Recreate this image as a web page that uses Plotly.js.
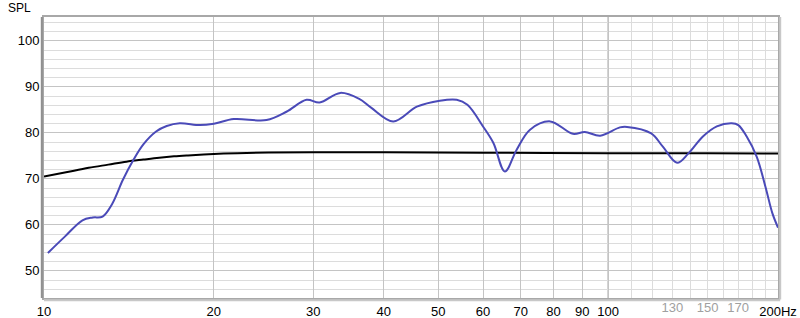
<!DOCTYPE html>
<html>
<head>
<meta charset="utf-8">
<script src="https://cdn.plot.ly/plotly-3.0.1.min.js"></script>
<style>html,body{margin:0;padding:0;background:#fff;}#chart{width:800px;height:318px;}</style>
</head>
<body>
<div id="chart"></div>
<script>
// Measured response (blue)
const measFreq = [10.16, 10.9, 11.7, 12.2, 12.7, 13.2, 13.8, 14.4, 15.0, 15.8, 16.5, 17.4, 18.9, 20, 21.7, 24.8, 26.9, 29.2, 30.8, 33.5, 36.2, 38, 41.6, 45.8, 50.3, 53.9, 56.3, 60, 62.6, 65.6, 68.8, 72.7, 78.9, 86.6, 90.9, 96.8, 104.9, 108, 119.2, 125, 132.5, 138.9, 147.2, 155.8, 165.6, 170.1, 176, 183.4, 190, 195.5, 200];
const measSPL  = [53.9, 57.5, 61.0, 61.6, 61.8, 64.5, 69.8, 74.1, 77.5, 80.3, 81.5, 82.1, 81.7, 82.0, 83.0, 82.8, 84.6, 87.2, 86.6, 88.7, 87.4, 85.5, 82.5, 85.7, 87.0, 87.2, 86.1, 81.4, 77.8, 71.6, 76.3, 80.7, 82.5, 79.8, 80.2, 79.4, 81.2, 81.3, 79.9, 77.0, 73.5, 75.6, 79.2, 81.4, 82.1, 81.7, 79.2, 74.8, 68.3, 62.5, 59.4];
// Target curve (black)
const targFreq = [10, 11, 12, 13, 14, 15, 16, 17, 18, 20, 22, 25, 30, 40, 60, 100, 150, 200];
const targSPL  = [70.5, 71.5, 72.4, 73.1, 73.75, 74.2, 74.6, 74.9, 75.1, 75.4, 75.6, 75.75, 75.8, 75.8, 75.7, 75.6, 75.6, 75.5];
// Axis ticks
const xMainTicks = [10, 20, 30, 40, 50, 60, 70, 80, 90, 100, 200];
const xMainText = ["10", "20", "30", "40", "50", "60", "70", "80", "90", "100", "200Hz"];
const xHighTicks = [130, 150, 170];
const xHighText = ["130", "150", "170"];
const xHighMinor = [110, 120, 140, 160, 180, 190];
const yTicks = [50, 60, 70, 80, 90, 100];

const xr = [1, Math.log10(200)];
const traces = [
  {x: targFreq, y: targSPL, type: 'scatter', mode: 'lines', line: {color: '#000000', width: 2, shape: 'spline'}, hoverinfo: 'skip'},
  {x: measFreq, y: measSPL, type: 'scatter', mode: 'lines', line: {color: '#4a4ab8', width: 2, shape: 'spline', smoothing: 1}, hoverinfo: 'skip'},
  {x: [150], y: [0], xaxis: 'x2', type: 'scatter', mode: 'markers', marker: {opacity: 0}, hoverinfo: 'skip'}
];
const font = {family: 'Liberation Sans, Arial, sans-serif', size: 12, color: '#000'};
const tickFont = {family: font.family, size: 13, color: '#000'};
const layout = {
  width: 800, height: 318,
  margin: {l: 44, r: 22, t: 17, b: 20},
  paper_bgcolor: '#ffffff', plot_bgcolor: '#ffffff',
  showlegend: false,
  font: font,
  xaxis2: {
    type: 'log', range: xr, overlaying: 'x', side: 'bottom', anchor: 'y',
    tickmode: 'array', tickvals: xHighTicks, ticktext: xHighText,
    tickfont: {family: font.family, size: 13, color: '#a0a0a0'},
    showgrid: true, gridcolor: '#dcdcdc', gridwidth: 1,
    minor: {tickmode: 'array', tickvals: xHighMinor, showgrid: true, gridcolor: '#dcdcdc', gridwidth: 1},
    ticks: '', zeroline: false, showline: false, fixedrange: true
  },
  xaxis: {
    type: 'log', range: xr,
    tickmode: 'array', tickvals: xMainTicks, ticktext: xMainText,
    tickfont: tickFont,
    showgrid: true, gridcolor: '#c4c4c4', gridwidth: 1,
    ticks: '', zeroline: false,
    showline: true, mirror: true, linecolor: '#a8a8a8', linewidth: 2
  },
  yaxis: {
    range: [44.1, 105.2],
    tickmode: 'array', tickvals: yTicks,
    tickfont: tickFont,
    showgrid: true, gridcolor: '#c4c4c4', gridwidth: 1,
    minor: {dtick: 2, showgrid: true, gridcolor: '#dcdcdc', gridwidth: 1},
    ticks: '', zeroline: false,
    showline: true, mirror: true, linecolor: '#a8a8a8', linewidth: 2
  },
  shapes: [
    {type: 'line', xref: 'x', yref: 'paper', x0: 100, x1: 100, y0: 0, y1: 1, line: {color: '#808080', width: 1}, layer: 'below'},
    {type: 'line', xref: 'paper', yref: 'paper', x0: -0.003, x1: -0.003, y0: 0, y1: 1, line: {color: '#909090', width: 2}},
    {type: 'line', xref: 'paper', yref: 'paper', x0: 1.003, x1: 1.003, y0: -0.005, y1: 1, line: {color: '#c8c8c8', width: 2}},
    {type: 'line', xref: 'paper', yref: 'paper', x0: 0, x1: 1.003, y0: -0.008, y1: -0.008, line: {color: '#c8c8c8', width: 2}}
  ],
  annotations: [
    {text: 'SPL', xref: 'paper', yref: 'paper', x: -0.034, y: 1.0, yshift: 9, xanchor: 'center', yanchor: 'middle', showarrow: false, font: font}
  ]
};
Plotly.newPlot('chart', traces, layout, {staticPlot: true});
</script>
</body>
</html>
